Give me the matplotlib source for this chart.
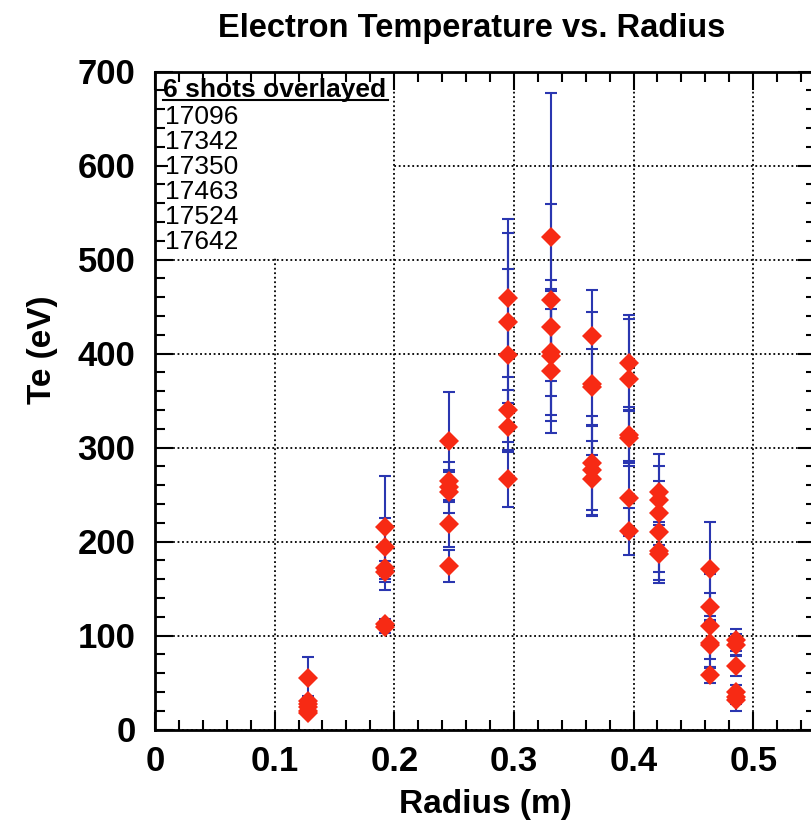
import numpy as np
import matplotlib
matplotlib.use("Agg")
import matplotlib.pyplot as plt
from matplotlib.patches import Rectangle

plt.rcParams['font.family'] = ['Liberation Sans', 'DejaVu Sans']

# radius (m) of each measurement chord
radius = [0.128, 0.192, 0.246, 0.295, 0.331, 0.365, 0.396, 0.421, 0.464, 0.486]

# Te (eV) for the 6 shots at each radius
te = [
    [55, 30, 27, 24, 20, 18],
    [215, 194, 172, 168, 112, 109],
    [307, 264, 258, 253, 219, 174],
    [459, 433, 398, 340, 322, 266],
    [524, 457, 428, 402, 397, 381],
    [419, 368, 364, 283, 276, 267],
    [390, 373, 313, 310, 246, 211],
    [253, 244, 230, 210, 190, 187],
    [171, 130, 110, 92, 90, 58],
    [95, 90, 68, 40, 35, 31],
]

# error bars (eV)
te_err = [
    [22, 6, 5, 5, 4, 4],
    [55, 31, 24, 11, 6, 6],
    [52, 21, 16, 23, 25, 17],
    [84, 95, 92, 21, 25, 29],
    [153, 102, 50, 67, 69, 66],
    [49, 76, 41, 50, 48, 40],
    [51, 64, 30, 30, 40, 25],
    [40, 36, 34, 42, 31, 31],
    [50, 35, 35, 25, 25, 9],
    [12, 12, 11, 7, 8, 11],
]

shots = ['17096', '17342', '17350', '17463', '17524', '17642']

x = np.repeat(radius, len(shots))
y = np.array(te).ravel()
e = np.array(te_err).ravel()

fig = plt.figure(figsize=(8.11, 8.23), dpi=100)
# right edge of the frame falls just outside the picture, as in the original
ax = fig.add_axes([155 / 811, 1 - 729.5 / 823, 661 / 811, 658 / 823])

ax.errorbar(x, y, yerr=e, fmt='none', ecolor='#2a36b0', elinewidth=1.5,
            capsize=4, capthick=1.5, zorder=3)
ax.plot(x, y, 'D', color='#f72a14', markersize=10, markeredgewidth=0, zorder=4)

ax.set_xlim(0, 0.5525)
ax.set_ylim(0, 700)
ax.set_xticks([0, 0.1, 0.2, 0.3, 0.4, 0.5])
ax.set_xticklabels(['0', '0.1', '0.2', '0.3', '0.4', '0.5'])
ax.set_xticks(np.arange(0, 0.551, 0.02), minor=True)
ax.set_yticks(np.arange(0, 701, 100))
ax.set_yticks(np.arange(0, 701, 20), minor=True)

ax.tick_params(which='both', direction='in', top=True, right=True, width=1.5)
ax.tick_params(which='major', length=13, labelsize=25)
ax.tick_params(which='minor', length=7)
ax.tick_params(axis='y', pad=14)
ax.tick_params(axis='x', pad=11)
for lbl in ax.get_xticklabels() + ax.get_yticklabels():
    lbl.set_fontweight('bold')
for sp in ax.spines.values():
    sp.set_linewidth(2)

ax.grid(True, which='major', color='black', linestyle=(0, (1, 1.5)), linewidth=1.3)

# white legend panel covering the grid
ax.add_patch(Rectangle((0.02, 0.717), 0.338, 0.262, transform=ax.transAxes,
                       facecolor='white', edgecolor='none', zorder=1.6))
ax.text(0.012, 0.9612, '6 shots overlayed', transform=ax.transAxes,
        fontsize=19, fontweight='bold', va='baseline', ha='left', zorder=5)
ax.plot([0.012, 0.352], [0.9567, 0.9567], transform=ax.transAxes,
        color='black', linewidth=1.5, zorder=5, clip_on=False)
for i, s in enumerate(shots):
    ax.text(0.015, 0.9202 - i * 0.038, s, transform=ax.transAxes,
            fontsize=19, va='baseline', ha='left', zorder=5)

ax.set_xlabel('Radius (m)', fontsize=24, fontweight='bold', labelpad=8)
ax.set_ylabel('Te (eV)', fontsize=24, fontweight='bold')
ax.yaxis.set_label_coords(-0.147, 0.577)
fig.text(472 / 811, 1 - 29 / 823, 'Electron Temperature vs. Radius',
         fontsize=23.5, fontweight='bold', ha='center', va='center')

fig.savefig('out.png', dpi=100)
